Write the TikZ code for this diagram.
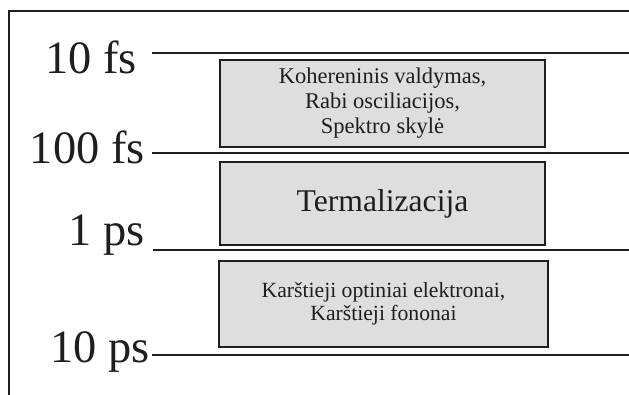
\documentclass[tikz,border=0pt]{standalone}
\usepackage{fontspec}
\setmainfont{Liberation Serif}
\usetikzlibrary{positioning}
\definecolor{ink}{RGB}{30,30,30}
\definecolor{panel}{RGB}{222,222,222}
\tikzset{
  timemark/.style={font=\fontsize{33}{33}\selectfont,text=ink,inner sep=0pt,anchor=base east},
  level/.style={draw=ink,line width=1.4pt},
  stage/.style={draw=ink,line width=1.3pt,fill=panel,text=ink,inner sep=0pt,align=center},
}

\begin{document}
\begin{tikzpicture}[x=0.025cm,y=-0.025cm]
  \useasboundingbox (0,0) rectangle (629,394);
  % frame
  \draw[ink,line width=1.5pt] (9,400) -- (9,11) -- (640,11);

  % time marks
  \node[timemark] (t10fs)  at (137,73)  {10 fs};
  \node[timemark] (t100fs) at (145,163) {100 fs};
  \node[timemark] (t1ps)   at (145,245) {1 ps};
  \node[timemark] (t10ps)  at (150,362) {10 ps};

  % levels
  \foreach \n/\x/\y in {a/152/53,b/152/153,c/153/250,d/152/355}{
    \coordinate (\n l) at (\x,\y);
    \coordinate (\n r) at (640,\y);
    \draw[level] (\n l) -- (\n r);
  }

  % stages
  \node[stage,minimum width=8.125cm,minimum height=2.175cm,
    font=\fontsize{16}{17.7}\selectfont] (coh) at (382.5,103.5)
    {Kohereninis valdymas,\\Rabi osciliacijos,\\Spektro skylė};
  \node[stage,minimum width=8.125cm,minimum height=2.075cm,
    font=\fontsize{22.5}{24}\selectfont] (term) at (382.5,203.5) {Termalizacija};
  \node[stage,minimum width=8.225cm,minimum height=2.15cm,
    font=\fontsize{15.4}{16.3}\selectfont] (hot) at (383.5,304)
    {Karštieji optiniai elektronai,\\Karštieji fononai};
\end{tikzpicture}
\end{document}
